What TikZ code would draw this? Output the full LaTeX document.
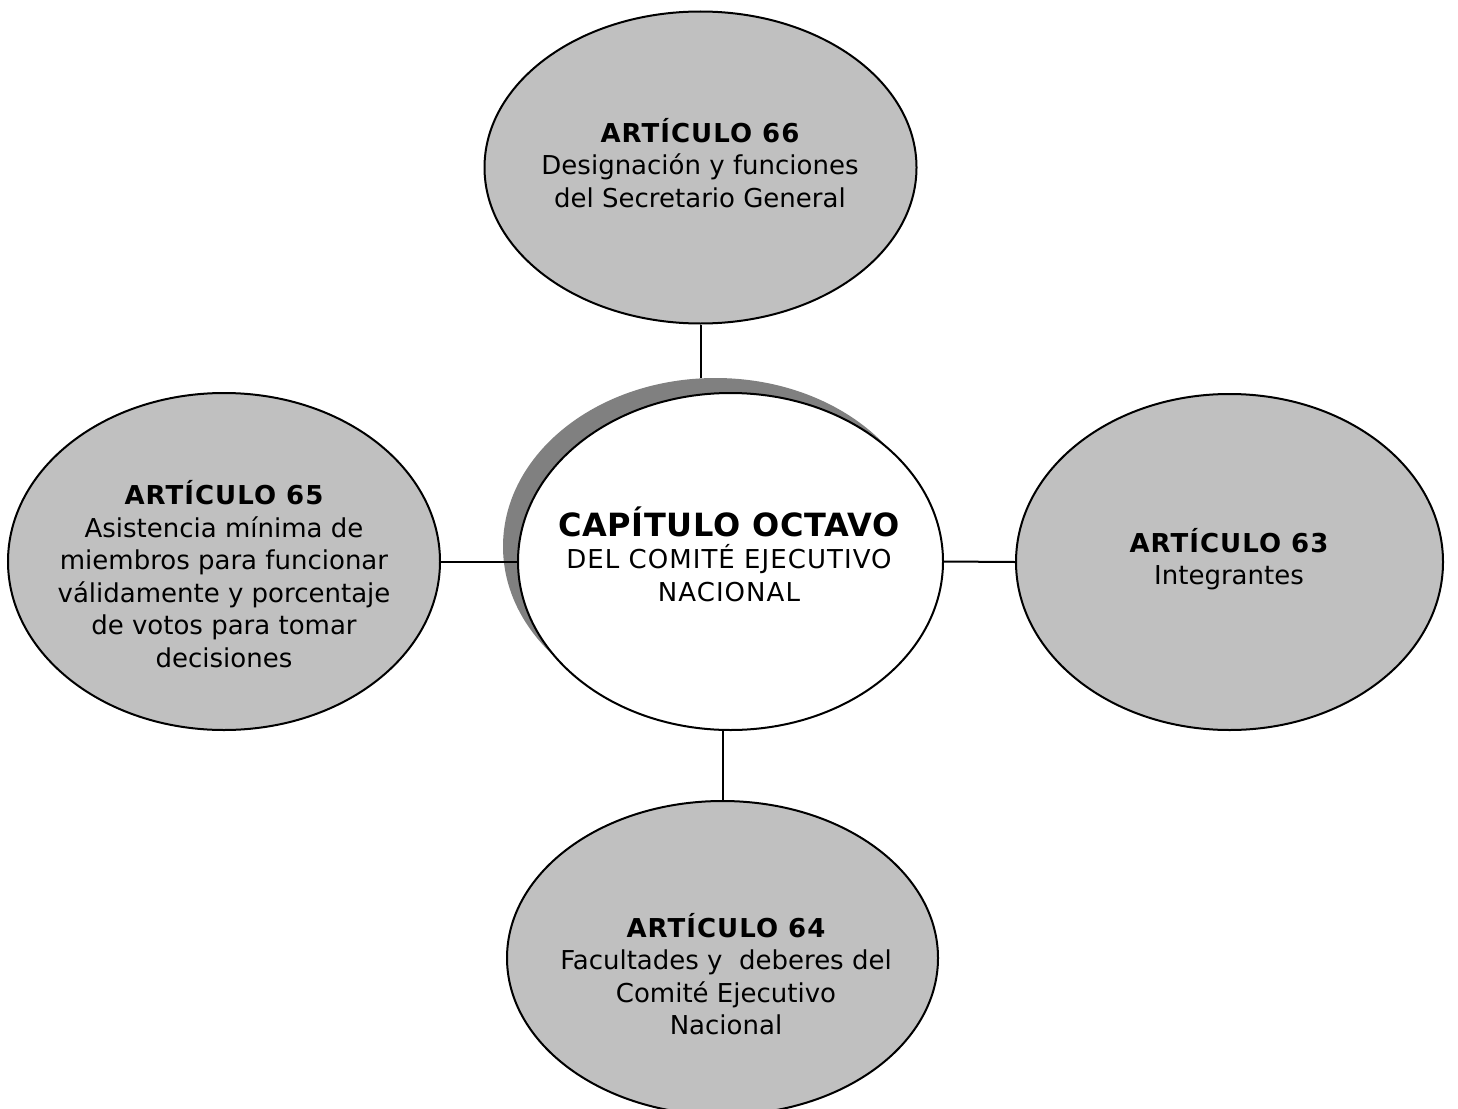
\documentclass[tikz,border=0pt]{standalone}
\usepackage{fontspec}
\setmainfont{DejaVu Sans}
\newfontfamily\widefont[LetterSpace=4]{DejaVu Sans}
\newfontfamily\titlefont[LetterSpace=2]{DejaVu Sans}
\usetikzlibrary{shapes.geometric}
\definecolor{bubble}{HTML}{C0C0C0}
\definecolor{shade}{HTML}{808080}
\newcommand{\arthead}[1]{{\widefont\bfseries #1}}
\tikzset{
  bubble/.style={ellipse, draw=black, line width=2pt, fill=bubble, inner sep=0pt},
  mainbubble/.style={ellipse, draw=black, line width=2pt, fill=white, inner sep=0pt},
  shadebubble/.style={ellipse, draw=none, fill=shade, inner sep=0pt},
  txt/.style={align=center, font=\fontsize{26pt}{32.5pt}\selectfont, inner sep=0pt},
  link/.style={draw=black, line width=2pt}
}
\begin{document}
\begin{tikzpicture}[x=1pt,y=-1pt]
\useasboundingbox[fill=white] (0,0) rectangle (1458,1108);
% satellites
\node[bubble, minimum width=432pt, minimum height=312pt] (e66) at (700.5,167.5) {};
\node[bubble, minimum width=432pt, minimum height=337pt] (e65) at (224,561.5) {};
\node[bubble, minimum width=427pt, minimum height=336pt] (e63) at (1229.5,562) {};
\node[bubble, minimum width=431pt, minimum height=314pt] (e64) at (722.5,958) {};
% centre with shadow
\node[shadebubble, minimum width=425pt, minimum height=337pt] (shadow) at (715.5,546.5) {};
\node[mainbubble, minimum width=425pt, minimum height=337pt] (main) at (730.5,561.5) {};
% connectors
\draw[link] (e66.south) -- (e66.south |- shadow.north);
\draw[link] (e65.east) -- (main.west);
\draw[link] (main.east) -- (e63.west);
\draw[link] (e64.north |- main.south) -- (e64.north);
% texts
\node[txt] (t66) at (700,163) {\arthead{ARTÍCULO 66}\\Designación y funciones\\del Secretario General};
\node[txt] (t65) at (224,574) {\arthead{ARTÍCULO 65}\\Asistencia mínima de\\miembros para funcionar\\válidamente y porcentaje\\de votos para tomar\\decisiones};
\node[txt] (t63) at (1229,559) {\arthead{ARTÍCULO 63}\\Integrantes};
\node[txt] (t64) at (726,974) {\arthead{ARTÍCULO 64}\\Facultades y\ \ deberes del\\Comité Ejecutivo\\Nacional};
\node[txt] (tmain) at (729,554) {{\titlefont\bfseries\fontsize{32pt}{35pt}\selectfont CAPÍTULO OCTAVO}\\{\widefont DEL COMITÉ EJECUTIVO}\\{\widefont NACIONAL}};
\end{tikzpicture}
\end{document}
